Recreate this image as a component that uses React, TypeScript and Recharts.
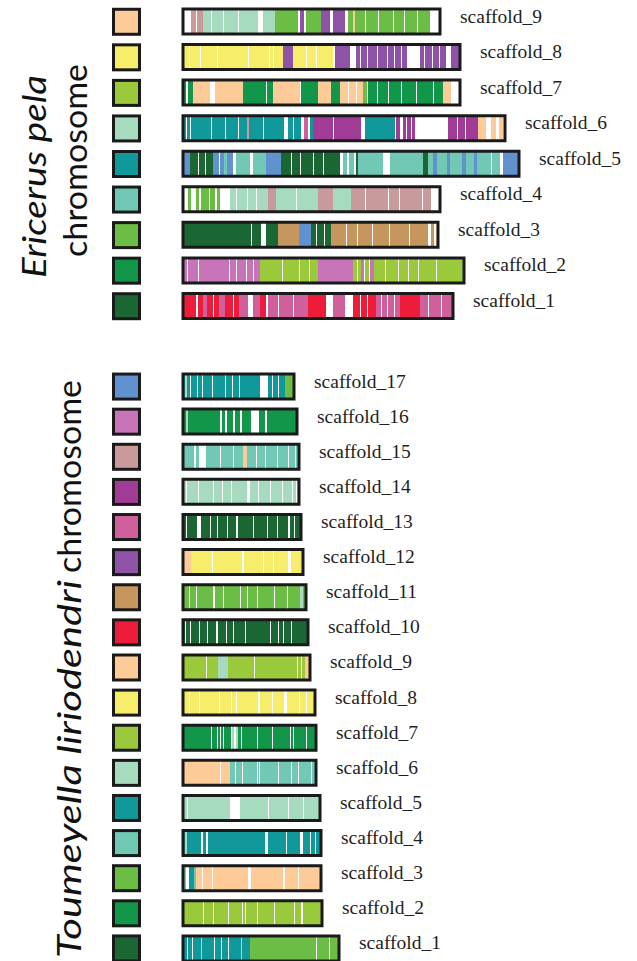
import { BarChart, Bar, XAxis, YAxis, Cell, LabelList } from 'recharts';

// segment = [colour key of the partner chromosome (0 = no hit), length]
type Seg = [number, number];

const palette: Record<number, string> = {
  0: '#ffffff',
  1: '#1b6734',
  2: '#12974a',
  3: '#6cbd45',
  4: '#71c8b4',
  5: '#11989a',
  6: '#a7dbbf',
  7: '#9ac93c',
  8: '#f6ee6b',
  9: '#fccb98',
  10: '#ec1c3a',
  11: '#c6965f',
  12: '#8e53a7',
  13: '#d0609b',
  14: '#a03c96',
  15: '#c99a9b',
  16: '#c874b9',
  17: '#6192cf',
};

// Ericerus pela scaffolds, top to bottom
const epNames = ['scaffold_9', 'scaffold_8', 'scaffold_7', 'scaffold_6', 'scaffold_5', 'scaffold_4', 'scaffold_3', 'scaffold_2', 'scaffold_1'];
const epOwn = [9, 8, 7, 6, 5, 4, 3, 2, 1];

const ep9: Seg[] = [[0,8],[15,5],[0,1],[15,6],[6,8],[0,1],[6,11],[0,1],[6,14],[0,1],[6,19],[0,5],[6,12],[3,23],[0,2],[12,4],[0,2],[3,15],[12,9],[0,3],[12,12],[0,3],[3,5],[9,2],[3,10],[0,1],[3,12],[0,1],[3,14],[0,1],[3,10],[0,1],[3,12],[0,1],[3,12],[0,10]];
const ep8: Seg[] = [[8,6],[0,1],[8,10],[0,1],[8,16],[0,1],[8,30],[0,1],[8,20],[0,1],[8,3],[0,1],[8,9],[12,10],[8,13],[0,1],[8,9],[0,1],[8,16],[0,2],[12,15],[0,6],[12,4],[0,1],[12,6],[0,1],[12,9],[0,1],[12,9],[0,1],[12,6],[0,1],[12,6],[0,1],[12,5],[0,13],[12,4],[0,1],[12,7],[0,1],[12,6],[0,1],[12,6],[0,5],[12,9]];
const ep7: Seg[] = [[2,3],[0,2],[2,5],[9,17],[0,5],[9,28],[2,23],[0,1],[2,6],[9,27],[0,1],[2,17],[9,13],[2,9],[9,8],[0,1],[9,7],[0,1],[9,6],[3,4],[0,1],[2,9],[0,1],[2,10],[0,1],[2,12],[0,1],[2,14],[0,1],[2,16],[0,1],[2,9],[9,8],[0,9]];
const ep6: Seg[] = [[5,3],[0,1],[5,3],[0,1],[5,20],[0,1],[5,13],[0,1],[5,12],[0,1],[5,8],[15,2],[5,14],[0,1],[5,20],[0,4],[5,5],[0,1],[5,7],[0,3],[13,4],[0,2],[5,3],[14,20],[0,1],[14,27],[0,4],[5,30],[0,1],[14,4],[0,3],[14,3],[0,1],[14,4],[0,1],[14,3],[0,33],[14,9],[0,1],[14,7],[0,1],[14,12],[9,8],[0,5],[9,5],[0,3],[9,4],[0,2]];
const ep5: Seg[] = [[17,7],[1,8],[0,1],[1,6],[0,1],[1,7],[17,6],[0,1],[17,4],[4,3],[17,6],[0,3],[4,14],[0,3],[4,13],[17,15],[1,10],[0,1],[1,8],[0,1],[1,12],[0,1],[1,9],[0,1],[1,16],[0,3],[4,4],[0,2],[4,5],[0,2],[1,2],[4,25],[0,7],[4,33],[1,5],[4,5],[17,4],[4,10],[17,3],[4,12],[17,4],[4,8],[17,3],[4,14],[0,1],[4,8],[0,3],[17,16]];
const ep4: Seg[] = [[0,5],[3,3],[0,5],[3,3],[0,2],[3,8],[0,1],[3,5],[0,2],[3,3],[0,10],[6,6],[0,1],[6,10],[0,1],[6,8],[0,1],[6,11],[15,8],[6,20],[0,1],[6,21],[15,15],[6,18],[15,14],[0,1],[15,22],[0,1],[15,10],[0,1],[15,22],[0,1],[15,8],[0,9]];
const ep3: Seg[] = [[1,68],[0,1],[1,9],[0,5],[1,12],[11,21],[17,12],[1,5],[0,1],[1,7],[0,1],[1,6],[11,15],[0,1],[11,10],[0,1],[11,14],[0,1],[11,16],[0,1],[11,19],[0,1],[11,18],[0,3],[11,3],[0,2],[9,2]];
const ep2: Seg[] = [[16,4],[0,1],[16,10],[0,1],[16,30],[0,1],[16,6],[0,1],[16,9],[0,1],[16,6],[0,1],[16,6],[7,22],[0,1],[7,16],[0,1],[7,9],[0,1],[7,8],[16,35],[7,4],[0,1],[7,3],[16,3],[0,1],[7,4],[0,1],[16,4],[7,11],[0,1],[7,12],[0,1],[7,9],[0,1],[7,9],[0,1],[7,17],[0,1],[7,27]];
const ep1: Seg[] = [[10,13],[0,2],[10,5],[13,4],[10,6],[0,1],[10,5],[13,6],[10,8],[0,1],[10,5],[13,9],[0,5],[13,7],[10,6],[0,2],[13,10],[0,1],[13,14],[0,1],[13,14],[10,18],[0,7],[13,12],[0,8],[10,7],[0,1],[10,6],[0,1],[10,8],[13,5],[0,1],[13,5],[0,1],[13,6],[0,1],[13,5],[10,20],[13,8],[0,1],[13,12],[0,1],[13,11]];
const epSegs = [ep9, ep8, ep7, ep6, ep5, ep4, ep3, ep2, ep1];

// Toumeyella liriodendri scaffolds, top to bottom
const tlNames = ['scaffold_17', 'scaffold_16', 'scaffold_15', 'scaffold_14', 'scaffold_13', 'scaffold_12', 'scaffold_11', 'scaffold_10', 'scaffold_9', 'scaffold_8', 'scaffold_7', 'scaffold_6', 'scaffold_5', 'scaffold_4', 'scaffold_3', 'scaffold_2', 'scaffold_1'];
const tlOwn = [17, 16, 15, 14, 13, 12, 11, 10, 9, 8, 7, 6, 5, 4, 3, 2, 1];

const tl17: Seg[] = [[5,2],[6,2],[5,3],[0,1],[5,6],[0,1],[5,4],[0,1],[5,9],[0,1],[5,12],[0,1],[5,6],[0,1],[5,6],[0,1],[5,20],[0,8],[5,4],[0,1],[5,5],[0,1],[5,6],[3,9]];
const tl16: Seg[] = [[2,3],[6,2],[2,32],[0,2],[2,3],[0,2],[2,6],[0,2],[2,5],[0,2],[2,9],[0,8],[2,6],[0,2],[2,30]];
const tl15: Seg[] = [[4,11],[0,2],[4,3],[0,7],[4,14],[0,1],[4,12],[0,1],[4,9],[9,4],[4,9],[0,1],[4,8],[0,1],[4,11],[0,1],[4,10],[0,1],[4,6],[0,1],[4,3]];
const tl14: Seg[] = [[6,3],[0,1],[6,11],[0,1],[6,14],[0,1],[6,8],[0,1],[6,8],[0,1],[6,15],[0,3],[6,8],[0,1],[6,11],[0,1],[6,11],[0,1],[6,9],[0,1],[6,3],[0,1],[6,2]];
const tl13: Seg[] = [[1,3],[0,1],[1,10],[0,4],[1,9],[0,1],[1,6],[0,1],[1,9],[0,1],[1,8],[0,2],[1,15],[0,1],[1,13],[0,1],[1,9],[0,1],[1,10],[0,2],[1,4],[0,1],[1,6]];
const tl12: Seg[] = [[9,8],[8,21],[0,1],[8,29],[0,2],[8,19],[0,1],[8,9],[0,1],[8,14],[0,3],[8,12]];
const tl11: Seg[] = [[3,6],[0,1],[3,6],[0,1],[3,16],[0,2],[3,8],[0,1],[3,16],[0,1],[3,6],[0,1],[3,9],[0,1],[3,16],[0,1],[3,12],[0,1],[3,12],[6,3],[3,3]];
const tl10: Seg[] = [[1,2],[0,1],[1,4],[0,1],[1,8],[0,1],[1,7],[0,1],[1,8],[0,2],[1,8],[0,1],[1,6],[0,1],[1,11],[0,1],[1,24],[0,1],[1,7],[0,1],[1,4],[0,1],[1,7],[0,1],[1,16]];
const tl9: Seg[] = [[7,23],[0,1],[7,11],[6,10],[7,26],[0,1],[7,42],[0,1],[7,3],[0,1],[7,3],[9,5]];
const tl8: Seg[] = [[8,6],[0,1],[8,9],[0,1],[8,19],[0,1],[8,11],[0,1],[8,4],[0,1],[8,21],[0,2],[8,12],[0,1],[8,11],[0,3],[8,12],[0,1],[8,6],[0,1],[8,8]];
const tl7: Seg[] = [[2,28],[0,1],[2,5],[0,1],[2,2],[0,1],[2,2],[0,1],[2,7],[0,1],[6,2],[0,2],[6,2],[2,3],[0,1],[2,15],[0,1],[2,14],[0,1],[2,17],[0,1],[2,2],[0,1],[2,12],[0,1],[2,9]];
const tl6: Seg[] = [[9,37],[0,1],[9,9],[4,5],[0,1],[4,6],[0,1],[4,14],[0,1],[4,1],[0,1],[4,18],[0,1],[4,12],[0,1],[4,6],[0,1],[4,12],[0,1],[4,4]];
const tl5: Seg[] = [[6,4],[0,1],[6,42],[0,10],[6,28],[0,1],[6,19],[0,1],[6,14],[0,1],[6,16]];
const tl4: Seg[] = [[5,2],[6,2],[5,14],[0,2],[5,3],[0,2],[5,57],[0,3],[5,18],[0,1],[5,13],[0,3],[5,7],[0,1],[5,4],[0,1],[5,5]];
const tl3: Seg[] = [[4,3],[0,3],[5,5],[4,2],[9,6],[0,1],[9,9],[0,1],[9,35],[0,3],[9,32],[0,2],[9,13],[0,1],[9,22]];
const tl2: Seg[] = [[7,20],[0,1],[7,9],[0,1],[7,14],[0,1],[7,13],[0,1],[7,2],[0,1],[7,11],[0,1],[7,16],[0,1],[7,19],[0,1],[7,6],[0,2],[7,19]];
const tl1: Seg[] = [[5,4],[0,1],[5,4],[0,1],[5,8],[6,1],[5,12],[0,1],[5,6],[0,1],[5,6],[0,1],[5,12],[6,1],[5,8],[3,66],[0,1],[3,12],[0,1],[3,9]];
const tlSegs = [tl17, tl16, tl15, tl14, tl13, tl12, tl11, tl10, tl9, tl8, tl7, tl6, tl5, tl4, tl3, tl2, tl1];

const BAR = 25;
const INK = '#1a1a1a';
const SERIF = "'Liberation Serif', 'Times New Roman', serif";
const SANS = "Lato, 'Open Sans', sans-serif";

interface PanelProps {
  names: string[];
  own: number[];
  segs: Seg[][];
  top: number;
  height: number;
}

const Panel = ({ names, own, segs, top, height }: PanelProps) => {
  const maxSegs = Math.max(...segs.map(s => s.length));
  const data = names.map((name, i) => {
    const row: Record<string, string | number> = {
      name,
      total: segs[i].reduce((a, s) => a + s[1], 0),
    };
    for (let k = 0; k < maxSegs; k++) row[`s${k}`] = segs[i][k]?.[1] ?? 0;
    return row;
  });

  // the legend square of each row is drawn as its y-axis tick
  const swatch = (p: any) => (
    <rect
      x={p.x - 69.5}
      y={p.y - BAR / 2}
      width={26}
      height={BAR}
      fill={palette[own[p.index]]}
      stroke={INK}
      strokeWidth={3}
    />
  );

  const nameLabel = (p: any) => {
    const vb = p.viewBox ?? p;
    return (
      <text x={vb.x + vb.width + 20} y={vb.y + vb.height / 2 + 1} fontFamily={SERIF} fontSize={19.5} fill="#1e1e1e">
        {p.value}
      </text>
    );
  };

  return (
    <div style={{ position: 'absolute', left: 0, top }}>
      <BarChart
        width={637}
        height={height}
        data={data}
        layout="vertical"
        barGap={-BAR}
        margin={{ top: 4, right: 14, bottom: 1, left: 123 }}
      >
        <XAxis type="number" domain={[0, 440]} hide />
        <YAxis
          type="category"
          dataKey="name"
          width={60}
          interval={0}
          tickSize={0}
          tickMargin={0}
          axisLine={false}
          tickLine={false}
          tick={swatch}
        />
        {Array.from({ length: maxSegs }, (_, k) => (
          <Bar key={k} dataKey={`s${k}`} stackId="seg" barSize={BAR} isAnimationActive={false}>
            {segs.map((s, i) => (
              <Cell key={i} fill={palette[s[k]?.[0] ?? 0]} />
            ))}
          </Bar>
        ))}
        {/* outline drawn over the stacked segments */}
        <Bar dataKey="total" stackId="box" barSize={BAR} fill="none" stroke={INK} strokeWidth={3} isAnimationActive={false}>
          <LabelList dataKey="name" content={nameLabel} />
        </Bar>
      </BarChart>
    </div>
  );
};

export default function App() {
  return (
    <div style={{ position: 'absolute', left: 0, top: 0, width: 637, height: 961, overflow: 'hidden', background: '#fff' }}>
      <svg width={637} height={961} style={{ position: 'absolute', left: 0, top: 0 }}>
        <text transform="translate(46,278) rotate(-90)" fontFamily={SANS} fontStyle="italic" fontSize={33} fill="#111" textLength={203} lengthAdjust="spacingAndGlyphs">
          Ericerus pela
        </text>
        <text transform="translate(87,257) rotate(-90)" fontFamily={SANS} fontSize={33} fill="#111" textLength={193} lengthAdjust="spacingAndGlyphs">
          chromosome
        </text>
        <text transform="translate(81,958) rotate(-90)" fontFamily={SANS} fontStyle="italic" fontSize={33} fill="#111" textLength={378} lengthAdjust="spacingAndGlyphs">
          Toumeyella liriodendri
        </text>
        <text transform="translate(81,573) rotate(-90)" fontFamily={SANS} fontSize={33} fill="#111" textLength={193} lengthAdjust="spacingAndGlyphs">
          chromosome
        </text>
      </svg>
      <Panel names={epNames} own={epOwn} segs={epSegs} top={0} height={325} />
      <Panel names={tlNames} own={tlOwn} segs={tlSegs} top={365} height={602} />
    </div>
  );
}
